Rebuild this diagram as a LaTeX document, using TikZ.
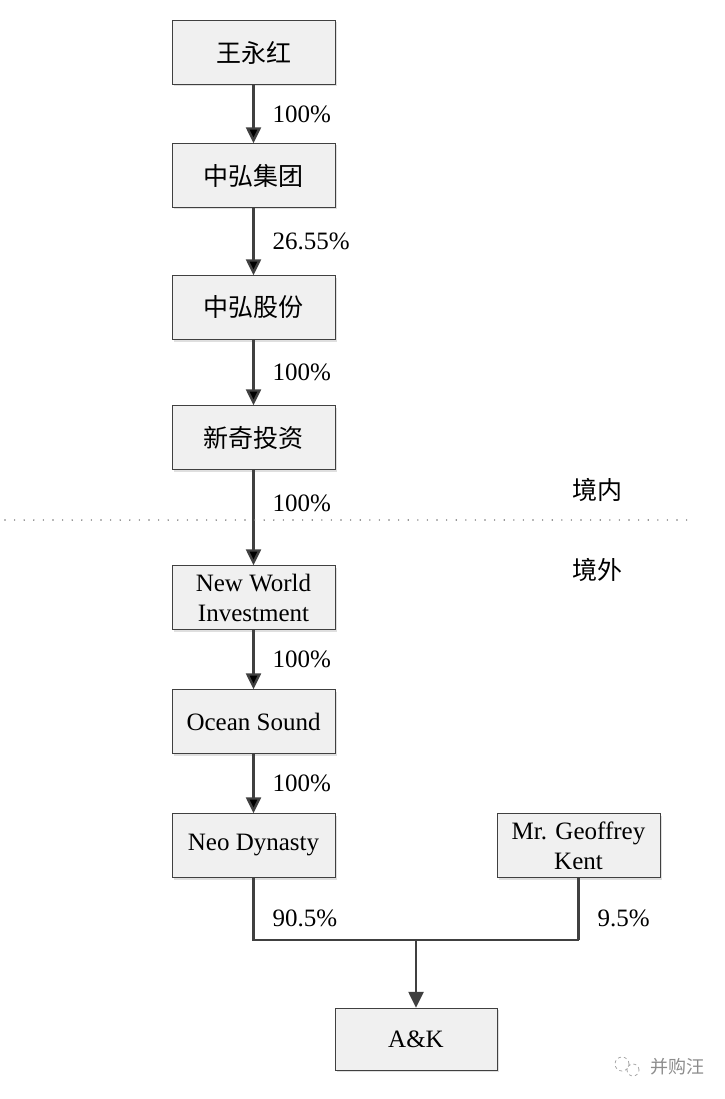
\documentclass[tikz,border=0pt]{standalone}
\usepackage{fontspec}
\setmainfont{Liberation Serif}
\newfontfamily\cjk{Noto Sans CJK SC}
\usetikzlibrary{positioning,arrows.meta,shadows}

\begin{document}
\begin{tikzpicture}[x=1pt,y=1pt,on grid,auto,
    owner/.style={draw=black!75,fill=black!6,minimum width=163pt,minimum height=64pt,
      align=center,font=\fontsize{25}{30}\selectfont,
      drop shadow={shadow xshift=2pt,shadow yshift=-2pt,fill=black!25}},
    share/.style={-{Triangle[length=16pt,width=15pt]},line width=2.4pt,draw=black!75},
    pct/.style={font=\fontsize{25}{28}\selectfont,inner sep=0pt,xshift=18pt}]
  \useasboundingbox (0,0) rectangle (724,-1099);
  % domestic chain
  \node[owner] (wyh) at (253.5,-52.5) {\cjk 王永红};
  \node[owner] (zhjt) [below=123pt of wyh] {\cjk 中弘集团};
  \node[owner] (zhgf) [below=132pt of zhjt] {\cjk 中弘股份};
  \node[owner] (xqtz) [below=130pt of zhgf] {\cjk 新奇投资};
  % overseas chain
  \node[owner] (nwi) [below=160pt of xqtz] {New World\\Investment};
  \node[owner] (os) [below=124pt of nwi] {Ocean Sound};
  \node[owner] (nd) [below=124pt of os] {Neo Dynasty};
  \node[owner] (gk) [right=325pt of nd] {Mr. Geoffrey\\Kent};
  \node[owner,minimum width=162pt,minimum height=62pt] (ak) [below right=193.5pt and 162.5pt of nd] {A\&K};
  \coordinate[above=99pt of ak] (join);
  \path[share]
    (wyh) edge node[pct] {100\%} (zhjt)
    (zhjt) edge node[pct] {26.55\%} (zhgf)
    (zhgf) edge node[pct] {100\%} (xqtz)
    (xqtz) edge node[pct,pos=0.35] {100\%} (nwi)
    (nwi) edge node[pct] {100\%} (os)
    (os) edge node[pct] {100\%} (nd);
  \draw[share,-] (nd.south) -- node[pct,pos=0.65] {90.5\%} (nd |- join) -- (gk |- join);
  \draw[share,-] (gk.south) -- node[pct,pos=0.65] {9.5\%} (gk |- join);
  \draw[share] (join) -- (ak);
  % border line
  \draw[black!55,line width=1.6pt,line cap=round,dash pattern=on 0pt off 9.6pt] (5,-520) -- (690,-520);
  \node[font=\fontsize{25}{28}\selectfont\cjk] (inland) at (597,-490) {境内};
  \node[font=\fontsize{25}{28}\selectfont\cjk] (abroad) at (597,-570) {境外};
  % watermark
  \node[font=\fontsize{18}{20}\selectfont\cjk,text=black!45] (mark) at (677,-1067) {并购汪};
  \draw[black!35,line width=0.8pt,dashed] (622,-1064) circle (7pt) (633,-1070) circle (6pt);
\end{tikzpicture}
\end{document}
